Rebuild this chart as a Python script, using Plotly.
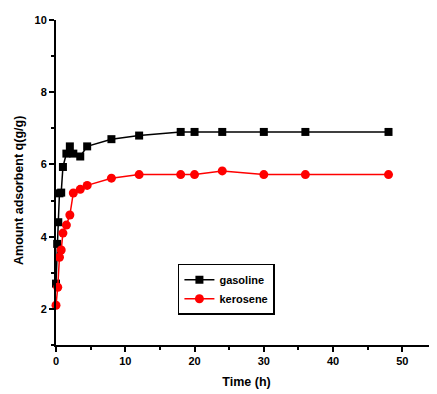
import plotly.graph_objects as go

gas_t = [0, 0.17, 0.33, 0.5, 0.75, 1, 1.5, 2, 2.5, 3.5, 4.5, 8, 12, 18, 20, 24, 30, 36, 48]
gas_q = [2.7, 3.8, 4.4, 5.2, 5.22, 5.93, 6.3, 6.5, 6.3, 6.22, 6.5, 6.7, 6.8, 6.9, 6.9, 6.9, 6.9, 6.9, 6.9]
ker_t = [0, 0.25, 0.5, 0.75, 1, 1.5, 2, 2.5, 3.5, 4.5, 8, 12, 18, 20, 24, 30, 36, 48]
ker_q = [2.1, 2.6, 3.43, 3.63, 4.1, 4.32, 4.6, 5.21, 5.31, 5.42, 5.62, 5.72, 5.72, 5.72, 5.82, 5.72, 5.72, 5.72]

font = "Liberation Sans, Arial, sans-serif"

fig = go.Figure()
fig.add_trace(go.Scatter(x=gas_t, y=gas_q, mode="lines+markers", name="<b>gasoline</b>",
                         line=dict(color="black", width=1.5),
                         marker=dict(symbol="square", size=8, color="black"), cliponaxis=False))
fig.add_trace(go.Scatter(x=ker_t, y=ker_q, mode="lines+markers", name="<b>kerosene</b>",
                         line=dict(color="red", width=1.5),
                         marker=dict(symbol="circle", size=9, color="red"), cliponaxis=False))

axis_common = dict(showline=True, linecolor="black", linewidth=2, ticks="outside",
                   tickwidth=1.5, ticklen=5, tickcolor="black", showgrid=False, zeroline=False,
                   tickfont=dict(family=font, size=11, color="black"), mirror=False,
                   automargin=False)

# page body has an 8px margin, so the figure is sized/offset to compensate
fig.update_layout(
    width=429, height=386,
    margin=dict(l=48, r=0, t=12, b=49),
    plot_bgcolor="white", paper_bgcolor="white",
    font=dict(family=font, color="black"),
    xaxis=dict(range=[0, 55], dtick=10, tick0=0,
               minor=dict(dtick=5, ticklen=3, ticks="outside", tickcolor="black", tickwidth=1.5),
               title=dict(text="<b>Time (h)</b>", font=dict(family=font, size=12.5), standoff=11),
               tickprefix="<b>", ticksuffix="</b>", **axis_common),
    yaxis=dict(range=[1, 10], dtick=2, tick0=0,
               minor=dict(dtick=1, ticklen=3, ticks="outside", tickcolor="black", tickwidth=1.5),
               tickprefix="<b>", ticksuffix="</b>", **axis_common),
    legend=dict(x=0.32, y=0.25, xanchor="left", yanchor="top",
                bordercolor="black", borderwidth=1.5, bgcolor="white",
                font=dict(family=font, size=11, color="black"),
                tracegroupgap=0, itemwidth=30),
    annotations=[dict(text="<b>Amount adsorbent q(g/g)</b>", textangle=-90,
                      xref="paper", yref="paper", x=-0.097, y=0.474,
                      xanchor="center", yanchor="middle", showarrow=False,
                      font=dict(family=font, size=12.5, color="black"))],
)

fig.write_html("out.html")
